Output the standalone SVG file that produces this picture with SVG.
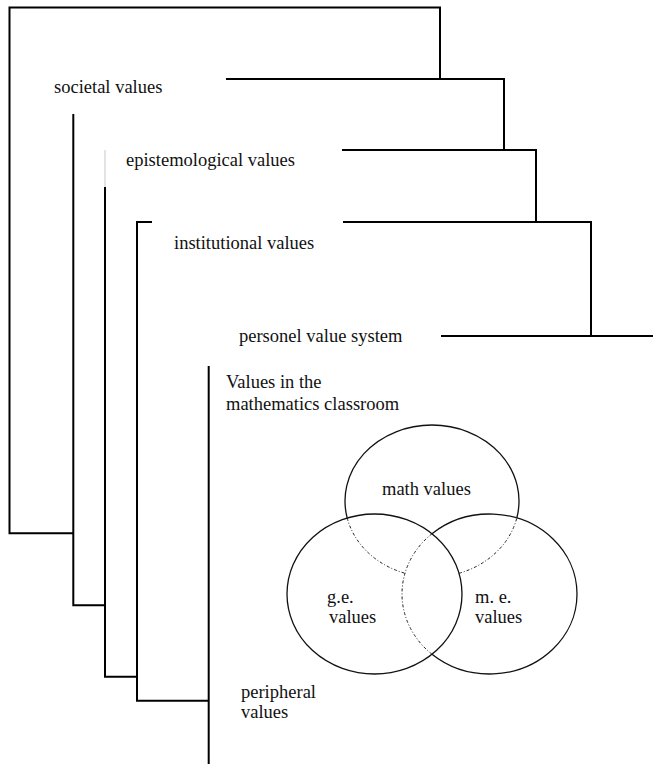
<svg xmlns="http://www.w3.org/2000/svg" width="653" height="764" viewBox="0 0 653 764">
<style>
  .ln { fill: none; stroke: #000; stroke-width: 2; stroke-linejoin: miter; stroke-linecap: butt; }
  .gr { fill: none; stroke: #c8c8c8; stroke-width: 1; }
  .c  { fill: none; stroke: #111; stroke-width: 1.3; }
  .cd { fill: none; stroke: #222; stroke-width: 1; stroke-dasharray: 3 2 1 2; }
  text { font-family: "Liberation Serif", "Times New Roman", serif; font-size: 18.5px; fill: #111; }
</style>
<rect width="653" height="764" fill="#fff"/>
<g id="connectors">
  <path class="ln" d="M73.3,533.3 H9.5 V7.5 H440 V79"/>
  <path class="ln" d="M226,79 H504 V150"/>
  <path class="ln" d="M342,150 H536 V222"/>
  <path class="ln" d="M343,222 H591 V336"/>
  <path class="ln" d="M441,336 H653"/>
  <path class="ln" d="M73.3,114 V605.3 H105"/>
  <path class="gr" d="M105,150 V187"/>
  <path class="ln" d="M105,187 V676.7 H137"/>
  <path class="ln" d="M152,222 H137 V700.7 H208.7"/>
  <path class="ln" d="M208.7,366 V764"/>
</g>
<g id="societal"><text x="54" y="93">societal values</text></g>
<g id="epistemological"><text x="126" y="166">epistemological values</text></g>
<g id="institutional"><text x="174" y="249">institutional values</text></g>
<g id="personel"><text x="239" y="342">personel value system</text></g>
<g id="classroom"><text x="226" y="388">Values in the</text><text x="226" y="410">mathematics classroom</text></g>
<g id="peripheral"><text x="241" y="698">peripheral</text><text x="241" y="718">values</text></g>
<g id="math">
  <path class="c" d="M347.2,518 A87,76 0 1,1 516.8,518"/>
  <path class="cd" d="M347.2,518 A87,76 0 0,0 405,573.3"/>
  <path class="cd" d="M459,573.3 A87,76 0 0,0 516.8,518"/>
  <text x="382" y="495">math values</text>
</g>
<g id="me">
  <path class="c" d="M432,533.7 A87.5,80 0 1,1 432,654.3"/>
  <path class="cd" d="M432,533.7 A87.5,80 0 0,0 432,654.3"/>
  <text x="475" y="603">m. e.</text>
  <text x="475" y="623">values</text>
</g>
<g id="ge">
  <ellipse class="c" cx="374.5" cy="594" rx="87.5" ry="80"/>
  <text x="327" y="603">g.e.</text>
  <text x="329" y="623">values</text>
</g>
</svg>
